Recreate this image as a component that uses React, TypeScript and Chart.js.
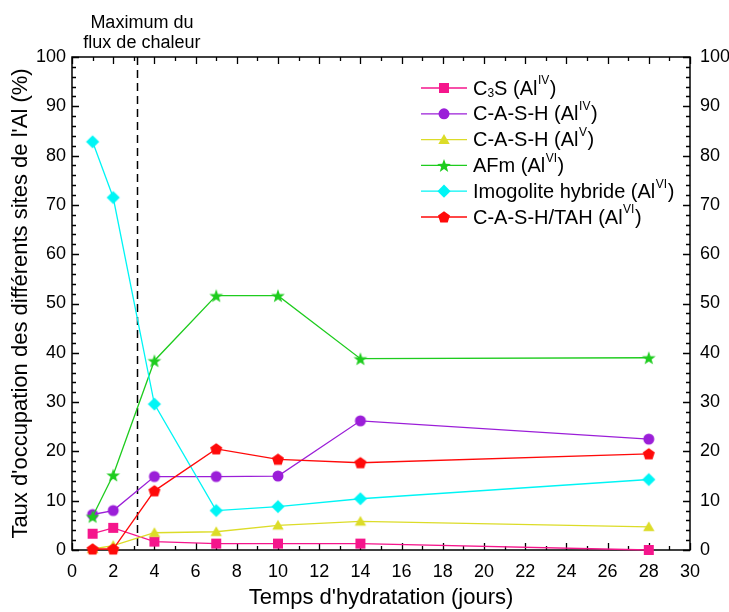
import React, { useEffect, useRef } from "react";
import { Chart, registerables } from "chart.js";

Chart.register(...registerables);

// ---- Data ----
const days = [1, 2, 4, 7, 10, 14, 28];
const c3sAlIV = [3.3, 4.5, 1.7, 1.3, 1.3, 1.3, 0];
const cashAlIV = [7.2, 8.0, 14.9, 14.9, 15.0, 26.2, 22.5];
const cashAlV = [0.2, 0.9, 3.5, 3.7, 5.0, 5.8, 4.7];
const afmAlVI = [6.8, 15.2, 38.4, 51.6, 51.6, 38.8, 39.0];
const imogoliteAlVI = [82.8, 71.5, 29.6, 8.0, 8.8, 10.4, 14.3];
const cashTahAlVI = [0.2, 0.2, 12.0, 20.5, 18.4, 17.7, 19.5];
const heatFluxMaxDay = 3.15;

const seriesLabels = [
  "C3S (AlIV)",
  "C-A-S-H (AlIV)",
  "C-A-S-H (AlV)",
  "AFm (AlVI)",
  "Imogolite hybride (AlVI)",
  "C-A-S-H/TAH (AlVI)",
];
// legend rich-text segments: [text, kind] kind: "" | "sub" | "sup"
const legendSegments: [string, string][][] = [
  [["C", ""], ["3", "sub"], ["S (Al", ""], ["IV", "sup"], [")", ""]],
  [["C-A-S-H (Al", ""], ["IV", "sup"], [")", ""]],
  [["C-A-S-H (Al", ""], ["V", "sup"], [")", ""]],
  [["AFm (Al", ""], ["VI", "sup"], [")", ""]],
  [["Imogolite hybride (Al", ""], ["VI", "sup"], [")", ""]],
  [["C-A-S-H/TAH (Al", ""], ["VI", "sup"], [")", ""]],
];
const seriesValues = [c3sAlIV, cashAlIV, cashAlV, afmAlVI, imogoliteAlVI, cashTahAlVI];
const seriesColors = ["#F5168C", "#9B1ED8", "#DCDC28", "#1ECC1E", "#00F5F5", "#FF0A0A"];
const seriesMarkers = ["square", "circle", "triangle", "star", "diamond", "pentagon"];

const annotationLines = ["Maximum du", "flux de chaleur"];
const xTitle = "Temps d'hydratation (jours)";
const yTitle = "Taux d'occupation des différents sites de l'Al (%)";

const FONT = "'Liberation Sans', Arial, Helvetica, sans-serif";

function drawMarker(ctx: CanvasRenderingContext2D, kind: string, x: number, y: number, color: string) {
  ctx.save();
  ctx.fillStyle = color;
  ctx.beginPath();
  if (kind === "square") {
    ctx.rect(x - 5, y - 5, 10, 10);
  } else if (kind === "circle") {
    ctx.arc(x, y, 5.5, 0, Math.PI * 2);
  } else if (kind === "triangle") {
    const r = 6.6;
    for (let i = 0; i < 3; i++) {
      const a = -Math.PI / 2 + (i * 2 * Math.PI) / 3;
      const px = x + r * Math.cos(a);
      const py = y + 1 + r * Math.sin(a);
      if (i === 0) ctx.moveTo(px, py);
      else ctx.lineTo(px, py);
    }
    ctx.closePath();
  } else if (kind === "star") {
    const ro = 7.2, ri = 2.9;
    for (let i = 0; i < 10; i++) {
      const r = i % 2 === 0 ? ro : ri;
      const a = -Math.PI / 2 + (i * Math.PI) / 5;
      const px = x + r * Math.cos(a);
      const py = y + 0.8 + r * Math.sin(a);
      if (i === 0) ctx.moveTo(px, py);
      else ctx.lineTo(px, py);
    }
    ctx.closePath();
  } else if (kind === "diamond") {
    const r = 6.6;
    ctx.moveTo(x, y - r);
    ctx.lineTo(x + r, y);
    ctx.lineTo(x, y + r);
    ctx.lineTo(x - r, y);
    ctx.closePath();
  } else if (kind === "pentagon") {
    const r = 6.3;
    for (let i = 0; i < 5; i++) {
      const a = -Math.PI / 2 + (i * 2 * Math.PI) / 5;
      const px = x + r * Math.cos(a);
      const py = y + 0.5 + r * Math.sin(a);
      if (i === 0) ctx.moveTo(px, py);
      else ctx.lineTo(px, py);
    }
    ctx.closePath();
  }
  ctx.fill();
  ctx.restore();
}

function markerImage(kind: string, color: string): HTMLCanvasElement {
  const c = document.createElement("canvas");
  c.width = 18;
  c.height = 18;
  const ctx = c.getContext("2d")!;
  drawMarker(ctx, kind, 9, 9, color);
  return c;
}

const framePlugin = {
  id: "frameTicks",
  beforeDraw(chart: any) {
    const ctx = chart.ctx;
    ctx.save();
    ctx.fillStyle = "#ffffff";
    ctx.fillRect(0, 0, chart.width, chart.height);
    ctx.restore();
  },
  beforeDatasetsDraw(chart: any) {
    const ctx: CanvasRenderingContext2D = chart.ctx;
    const { left, right, top, bottom } = chart.chartArea;
    const xs = chart.scales.x;
    const ys = chart.scales.y;
    ctx.save();
    ctx.strokeStyle = "#000";
    ctx.lineWidth = 1.5;
    ctx.strokeRect(left, top, right - left, bottom - top);
    ctx.lineWidth = 1.3;
    ctx.beginPath();
    for (let v = 0; v <= 30; v += 1) {
      const px = Math.round(xs.getPixelForValue(v)) + 0.5;
      const len = v % 2 === 0 ? 7 : 4;
      ctx.moveTo(px, bottom);
      ctx.lineTo(px, bottom - len);
      ctx.moveTo(px, top);
      ctx.lineTo(px, top + len);
    }
    for (let v = 0; v <= 100; v += 2) {
      const py = Math.round(ys.getPixelForValue(v)) + 0.5;
      const len = v % 10 === 0 ? 7 : 4;
      ctx.moveTo(left, py);
      ctx.lineTo(left + len, py);
      ctx.moveTo(right, py);
      ctx.lineTo(right - len, py);
    }
    ctx.stroke();
    // dashed line: heat flux maximum
    const dx = Math.round(xs.getPixelForValue(heatFluxMaxDay)) + 0.5;
    ctx.setLineDash([8, 5]);
    ctx.lineWidth = 1.5;
    ctx.beginPath();
    ctx.moveTo(dx, top);
    ctx.lineTo(dx, bottom);
    ctx.stroke();
    ctx.restore();
  },
  afterDraw(chart: any) {
    const ctx: CanvasRenderingContext2D = chart.ctx;
    const xs = chart.scales.x;
    ctx.save();
    // annotation above the dashed line
    ctx.fillStyle = "#000";
    ctx.font = `18px ${FONT}`;
    ctx.textAlign = "center";
    ctx.textBaseline = "alphabetic";
    const ax = xs.getPixelForValue(heatFluxMaxDay) + 5;
    ctx.fillText(annotationLines[0], ax, 28);
    ctx.fillText(annotationLines[1], ax, 48);

    // legend
    const lx0 = 421, lx1 = 467, tx = 473;
    const y0 = 88, dy = 25.8;
    ctx.textAlign = "left";
    ctx.textBaseline = "middle";
    for (let i = 0; i < seriesLabels.length; i++) {
      const y = y0 + i * dy;
      ctx.strokeStyle = seriesColors[i];
      ctx.lineWidth = 1.3;
      ctx.beginPath();
      ctx.moveTo(lx0, y);
      ctx.lineTo(lx1, y);
      ctx.stroke();
      drawMarker(ctx, seriesMarkers[i], (lx0 + lx1) / 2, y, seriesColors[i]);
      let x = tx;
      ctx.fillStyle = "#000";
      for (const [text, kind] of legendSegments[i]) {
        if (kind === "") {
          ctx.font = `20px ${FONT}`;
          ctx.fillText(text, x, y + 1);
        } else if (kind === "sup") {
          ctx.font = `12px ${FONT}`;
          ctx.fillText(text, x + 0.5, y - 7);
        } else {
          ctx.font = `12px ${FONT}`;
          ctx.fillText(text, x, y + 6);
        }
        x += ctx.measureText(text).width + (kind === "sup" ? 1 : 0);
      }
    }
    ctx.restore();
  },
};

export default function App() {
  const ref = useRef<HTMLCanvasElement | null>(null);
  useEffect(() => {
    document.body.style.margin = "0";
    const canvas = ref.current;
    if (!canvas) return;
    Chart.defaults.font.family = FONT;
    const datasets = seriesValues.map((vals, i) => ({
      label: seriesLabels[i],
      data: days.map((d, k) => ({ x: d, y: vals[k] })),
      borderColor: seriesColors[i],
      backgroundColor: seriesColors[i],
      borderWidth: 1.3,
      pointStyle: markerImage(seriesMarkers[i], seriesColors[i]),
      pointRadius: 6,
      tension: 0,
      clip: false as any,
      order: seriesValues.length - i,
    }));
    const chart = new Chart(canvas, {
      type: "line",
      data: { datasets },
      plugins: [framePlugin],
      options: {
        animation: false,
        responsive: false,
        devicePixelRatio: 1,
        layout: { padding: { top: 57, left: 0, right: 0, bottom: 0 } },
        plugins: { legend: { display: false }, tooltip: { enabled: false } },
        scales: {
          x: {
            type: "linear",
            position: "bottom",
            min: 0,
            max: 30,
            ticks: { stepSize: 2, color: "#000", font: { size: 18 }, padding: 11, maxRotation: 0 },
            grid: { display: false, drawTicks: false },
            border: { display: false },
            title: { display: true, text: xTitle, color: "#000", font: { size: 22 }, padding: { top: 0, bottom: 1 } },
            afterFit: (s: any) => { s.height = 62; },
          },
          y: {
            type: "linear",
            position: "left",
            min: 0,
            max: 100,
            ticks: { stepSize: 10, color: "#000", font: { size: 18 }, padding: 6 },
            grid: { display: false, drawTicks: false },
            border: { display: false },
            title: { display: true, text: yTitle, color: "#000", font: { size: 22 }, padding: { top: 8, bottom: 0 } },
            afterFit: (s: any) => { s.width = 72; },
          },
          y2: {
            type: "linear",
            position: "right",
            min: 0,
            max: 100,
            ticks: { stepSize: 10, color: "#000", font: { size: 18 }, padding: 10 },
            grid: { display: false, drawTicks: false },
            border: { display: false },
            afterFit: (s: any) => { s.width = 39; },
          },
        },
      } as any,
    });
    return () => chart.destroy();
  }, []);
  return <canvas ref={ref} width={729} height={612} style={{ display: "block" }} />;
}
